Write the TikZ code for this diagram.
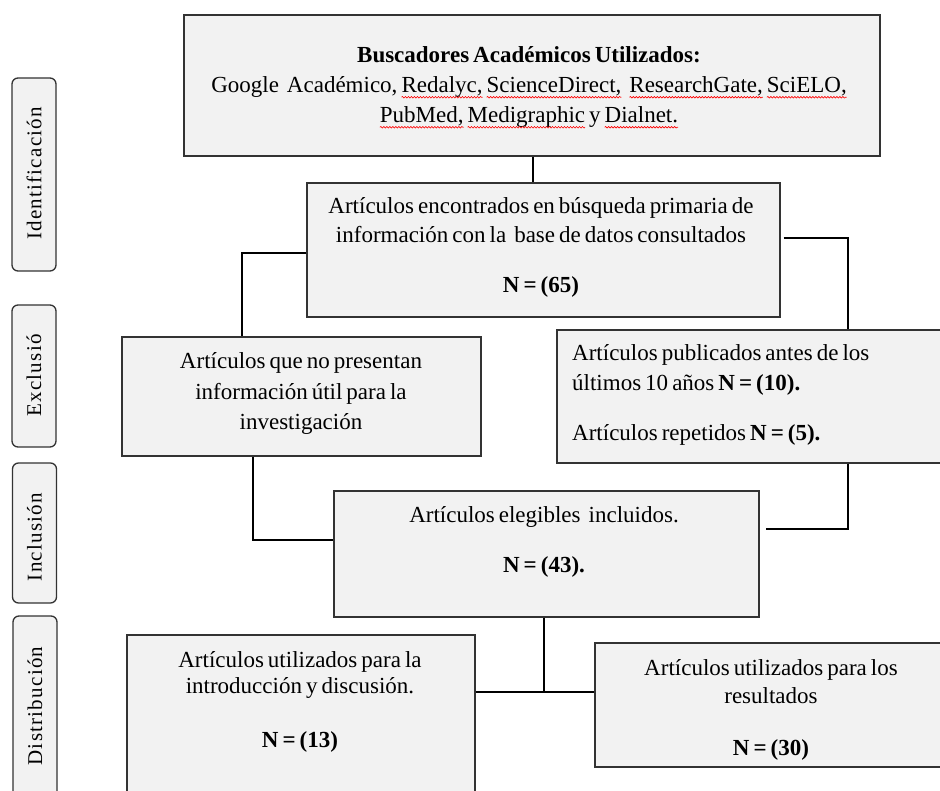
\documentclass[tikz,border=0pt]{standalone}
\usepackage{fontspec}
\usetikzlibrary{decorations.pathmorphing}
\setmainfont{Liberation Serif}[WordSpace=0.7]
\newfontfamily\labelfont{Liberation Serif}[LetterSpace=6]
\newsavebox\sqbox
\newcommand\redsq[1]{\sbox\sqbox{#1}\usebox\sqbox\tikz[overlay,x=1pt,y=1pt]\draw[red,line width=0.6pt,decorate,decoration={snake,amplitude=0.8pt,segment length=3pt}] (-\wd\sqbox,-4.5pt) -- (0pt,-4.5pt);}
\definecolor{boxfill}{HTML}{F2F2F2}
\definecolor{boxline}{HTML}{333333}
\tikzset{
  flowbox/.style={draw=boxline, line width=1.3pt, fill=boxfill, inner sep=0pt},
  sidebox/.style={draw=boxline, line width=1.3pt, fill=boxfill, rounded corners=6pt, inner sep=0pt, minimum width=44pt},
  boxtext/.style={inner sep=0pt, font=\fontsize{23}{30}\selectfont, text=black},
  sidetext/.style={inner sep=0pt, rotate=90, font=\labelfont\fontsize{21}{25}\selectfont, text=black},
  conn/.style={draw=black, line width=2.8pt}
}
\begin{document}
\begin{tikzpicture}[x=1pt,y=-1pt]
\useasboundingbox (0,0) rectangle (940,791);
\clip (0,0) rectangle (940,791);
\fill[white] (0,0) rectangle (940,791);

% side labels
\node[sidebox, minimum height=193pt] (sideid) at (34,174.5) {};
\node[sidetext] (sideidt) at (34,173.5) {Identificación};
\node[sidebox, minimum height=142pt] (sideex) at (34,376) {};
\node[sidetext] (sideext) at (34,375.5) {Exclusió};
\node[sidebox, minimum height=140pt] (sidein) at (34.5,533) {};
\node[sidetext] (sideint) at (34.5,537) {Inclusión};
\node[sidebox, minimum height=184pt] (sidedi) at (35,708) {};
\node[sidetext] (sidedit) at (35,706) {Distribución};

% boxes
\node[flowbox, minimum width=696pt, minimum height=141pt] (top) at (532,85.5) {};
\node[boxtext, align=center] (topt) at (529,87) {\textbf{Buscadores Académicos Utilizados:}\\[0.5pt]
Google\ \ Académico, \redsq{Redalyc,} \redsq{ScienceDirect,}\ \ \redsq{ResearchGate,} \redsq{SciELO,}\\
\redsq{PubMed,} \redsq{Medigraphic} y \redsq{Dialnet.}};

\node[flowbox, minimum width=473pt, minimum height=134pt] (bb) at (543.5,250) {};
\node[boxtext, align=center] (bbt) at (541,247.5) {Artículos encontrados en búsqueda primaria de\\[-1pt]
información con la\ \ base de datos consultados\\[20pt]
\textbf{N = (65)}};

\node[flowbox, minimum width=359pt, minimum height=119pt] (lf) at (301.5,396.5) {};
\node[boxtext, align=center] (lft) at (301,393.5) {Artículos que no presentan\\[0.5pt]
información útil para la\\[0.5pt]
investigación};

\node[flowbox, minimum width=393pt, minimum height=133pt] (rt) at (753.5,396.5) {};
\node[boxtext, align=left, anchor=west] (rtt) at (572,395) {Artículos publicados antes de los\\
últimos 10 años \textbf{N = (10).}\\[20pt]
Artículos repetidos \textbf{N = (5).}};

\node[flowbox, minimum width=425pt, minimum height=126pt] (ctr) at (546.5,554) {};
\node[boxtext, align=center] (ctrt) at (544,542) {Artículos elegibles\ \ incluidos.\\[20pt]
\textbf{N = (43).}};

\node[flowbox, minimum width=348pt, minimum height=175pt] (bl) at (301,722.5) {};
\node[boxtext, align=center] (blt) at (300,702) {Artículos utilizados para la\\[-4pt]
introducción y discusión.\\[24pt]
\textbf{N = (13)}};

\node[flowbox, minimum width=352pt, minimum height=124pt] (br) at (771,705) {};
\node[boxtext, align=center] (brt) at (771,710) {Artículos utilizados para los\\[-2pt]
resultados\\[22pt]
\textbf{N = (30)}};

% connector helper coordinates
\coordinate (cx1) at (533,0);
\coordinate (cy2) at (0,253);
\coordinate (cx3) at (242,0);
\coordinate (cy4) at (0,238);
\coordinate (cx5) at (848,0);
\coordinate (cx6) at (253,0);
\coordinate (cy7) at (0,540);
\coordinate (cx8) at (848,0);
\coordinate (cy9) at (0,529);
\coordinate (cx10) at (544,0);
\coordinate (junc) at (544,692);

% connectors
\draw[conn] (top.south -| cx1) -- (bb.north -| cx1);
\draw[conn] (bb.west |- cy2) -| (lf.north -| cx3);
\draw[conn, shorten <=3pt] (bb.east |- cy4) -| (rt.north -| cx5);
\draw[conn] (lf.south -| cx6) |- (ctr.west |- cy7);
\draw[conn, shorten >=6pt] (rt.south -| cx8) |- (ctr.east |- cy9);
\draw[conn] (ctr.south -| cx10) -- (junc);
\draw[conn] (bl.east |- junc) -- (br.west |- junc);
\end{tikzpicture}
\end{document}
